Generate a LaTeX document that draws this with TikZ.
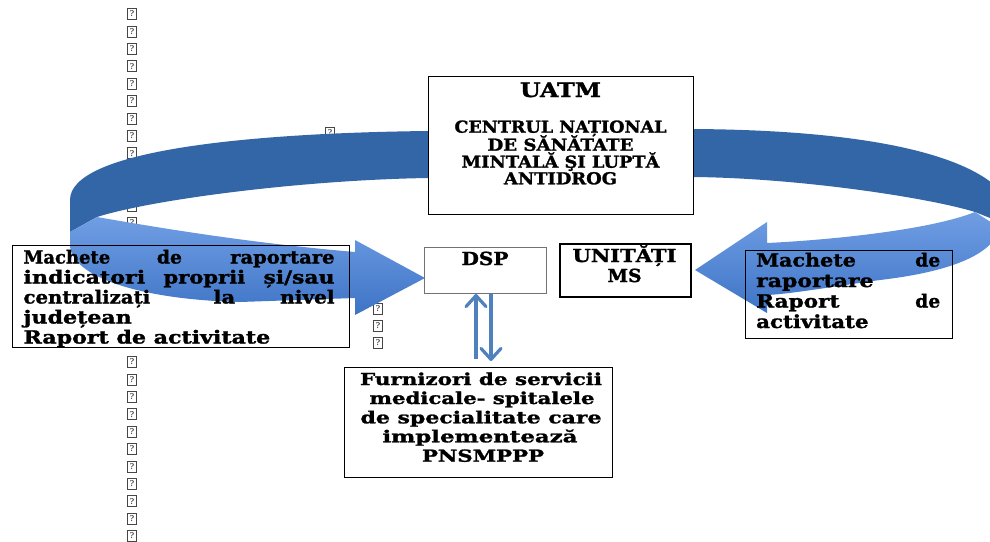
\documentclass[tikz,border=0pt]{standalone}
\usepackage{fontspec}
\usepackage{graphicx}
\setmainfont{DejaVu Serif}
\newfontfamily\lfont{DejaVu Serif}[FakeBold=1.4]
\newcommand{\fitw}[2]{\resizebox{#1}{\height}{#2}}
\usetikzlibrary{arrows.meta}
\definecolor{darkband}{RGB}{50,102,167}
\definecolor{lighttop}{RGB}{112,158,228}
\definecolor{lightbot}{RGB}{62,116,198}
\definecolor{thinblue}{RGB}{79,129,189}
\definecolor{glyphgray}{RGB}{70,70,70}
\begin{document}
\begin{tikzpicture}[x=1pt,y=-1pt,
 miss/.style={draw=glyphgray, line width=0.8pt, minimum width=9pt, minimum height=11pt, inner sep=0pt, font=\fontsize{8}{8}\selectfont},
 frame/.style={draw=black, line width=1.1pt, anchor=north west, inner sep=0pt, fill=white},
 lt/.style={inner sep=0pt, anchor=base west, font=\lfont\bfseries\fontsize{18}{19}\selectfont},
 ct/.style={inner sep=0pt, anchor=base, font=\lfont\bfseries\fontsize{16.5}{18}\selectfont},
 bigt/.style={ct, font=\lfont\bfseries\fontsize{18}{18}\selectfont},
 band/.style={fill=darkband},
 front/.style={top color=lighttop, bottom color=lightbot},
 thinarrow/.style={draw=thinblue, line width=3.2pt, -{Straight Barb[length=11pt,width=20pt,round]}}
]
\useasboundingbox (0,0) rectangle (990,541);
\fill[white] (0,0) rectangle (990,541);

% missing-glyph placeholders
\foreach \k in {0,...,13} \node[miss] (ga\k) at (132,{14+17.4*\k}) {?};
\foreach \k in {20,...,30} \node[miss] (gb\k) at (132,{14+17.4*\k}) {?};
\node[miss] (gc0) at (330,133) {?};
\foreach \k/\yy in {1/291,2/309,3/326,4/343} \node[miss] (gd\k) at (378,\yy) {?};

% white ground of the left text box
\fill[white] (12,245) rectangle (349,347);

% big curved arrows
\begin{scope}
\clip (0,0) rectangle (990,541);
% left arrow: back part
\fill[band] (428,131) .. controls (250,133) and (70,150) .. (70,200) -- (70,232) -- (97,217)
  .. controls (150,200) and (300,180) .. (428,178) -- cycle;
% left arrow: front part with head
\shade[front] (97,217) -- (70,232) -- (70,245) .. controls (72,280) and (150,300) .. (240,302)
  -- (355,298) -- (355,315) -- (425,278) -- (355,240) -- (355,252)
  .. controls (250,243) and (160,228) .. (97,217) -- cycle;
% right arrow: back part
\fill[band] (693,129) .. controls (850,130) and (960,150) .. (1000,190) -- (1000,222) -- (975,212)
  .. controls (930,198) and (800,178) .. (693,177) -- cycle;
% right arrow: front part with head
\shade[front] (975,212) -- (1000,228) .. controls (992,258) and (940,273) .. (880,280)
  .. controls (830,287) and (790,294) .. (767,295) -- (767,313) -- (695,270) -- (767,222) -- (767,243)
  .. controls (830,240) and (930,230) .. (975,212) -- cycle;
\end{scope}

% boxes
\node[frame, minimum width=265pt, minimum height=138pt] (uatm) at (428,76) {};
\node[frame, draw=black!55, line width=1pt, minimum width=122pt, minimum height=46pt] (dsp) at (424,247) {};
\node[frame, line width=1.8pt, minimum width=131pt, minimum height=53pt] (ums) at (559,243) {};
\node[frame, minimum width=268pt, minimum height=110pt] (furn) at (344,367) {};
\node[frame, fill=none, minimum width=337pt, minimum height=102pt] (lbox) at (12,245) {};
\node[frame, fill=none, line width=1.4pt, minimum width=207pt, minimum height=88pt] (rbox) at (745,250) {};

% UATM texts
\node[ct, font=\lfont\bfseries\fontsize{20}{20}\selectfont] (tuatm) at (560.5,97) {\fitw{81pt}{UATM}};
\node[ct] (tc1) at (560.5,132.7) {\fitw{212pt}{CENTRUL NAȚIONAL}};
\node[ct] (tc2) at (560.5,150.7) {\fitw{146pt}{DE SĂNĂTATE}};
\node[ct] (tc3) at (560.5,167.7) {\fitw{198pt}{MINTALĂ ŞI LUPTĂ}};
\node[ct] (tc4) at (560.5,184.3) {\fitw{113pt}{ANTIDROG}};

% DSP and UNITATI MS
\node[bigt] (tdsp) at (485,265) {\fitw{47pt}{DSP}};
\node[bigt] (tums1) at (624.5,262) {\fitw{104pt}{UNITĂȚI}};
\node[bigt] (tums2) at (624.5,282) {\fitw{34pt}{MS}};

% left box text
\node[lt] (l1) at (23.3,263.5) {\fitw{86.7pt}{Machete}\hspace{46.7pt}\fitw{25pt}{de}\hspace{48.3pt}\fitw{104.3pt}{raportare}};
\node[lt] (l2) at (23.3,283.5) {\fitw{121.7pt}{indicatori}\hspace{18.3pt}\fitw{81.7pt}{proprii}\hspace{18.3pt}\fitw{71pt}{și/sau}};
\node[lt] (l3) at (23.3,303.5) {\fitw{126.7pt}{centralizați}\hspace{63.3pt}\fitw{21.7pt}{la}\hspace{45pt}\fitw{54.3pt}{nivel}};
\node[lt] (l4) at (23.3,323.5) {\fitw{108.3pt}{județean}};
\node[lt] (l5) at (23.3,343.5) {\fitw{246.7pt}{Raport de activitate}};

% right box text
\node[lt] (r1) at (756,266.5) {\fitw{99.7pt}{Machete}\hspace{59.3pt}\fitw{25pt}{de}};
\node[lt] (r2) at (756,287) {\fitw{117.3pt}{raportare}};
\node[lt] (r3) at (756,307.5) {\fitw{83.3pt}{Raport}\hspace{75.7pt}\fitw{25pt}{de}};
\node[lt] (r4) at (756,328) {\fitw{112.3pt}{activitate}};

% Furnizori text
\node[ct] (f1) at (481,385) {\fitw{242pt}{Furnizori de servicii}};
\node[ct] (f2) at (482,404) {\fitw{225pt}{medicale- spitalele}};
\node[ct] (f3) at (481,423.3) {\fitw{241pt}{de specialitate care}};
\node[ct] (f4) at (480,442.3) {\fitw{195pt}{implementează}};
\node[ct] (f5) at (483,461.7) {\fitw{122pt}{PNSMPPP}};

% thin double arrow between DSP and the providers
\coordinate (upfoot) at (476,359);
\coordinate (dnfoot) at (491,361);
\draw[thinarrow] (upfoot) -- (upfoot |- dsp.south);
\draw[thinarrow] (dnfoot |- dsp.south) -- (dnfoot);
\end{tikzpicture}
\end{document}
